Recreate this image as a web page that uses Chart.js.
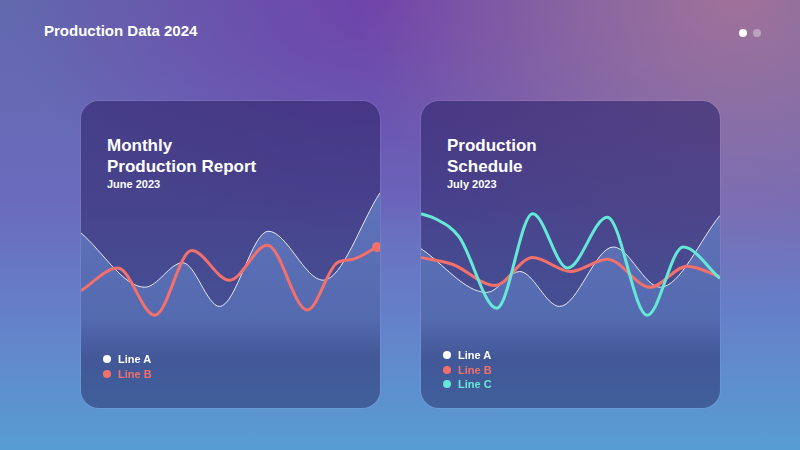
<!DOCTYPE html>
<html>
<head>
<meta charset="utf-8">
<title>Production Data 2024</title>
<script src="https://cdn.jsdelivr.net/npm/chart.js@4.4.1/dist/chart.umd.min.js"></script>
<style>
  html, body { margin: 0; padding: 0; }
  body {
    width: 800px; height: 450px; overflow: hidden; position: relative;
    font-family: "Liberation Sans", Arial, sans-serif; color: #fff;
    background:
      radial-gradient(ellipse 380px 300px at 92% 0%, rgba(170,115,150,0.85), rgba(170,115,150,0) 100%),
      radial-gradient(ellipse 380px 240px at 48% 0%, rgba(112,62,170,0.9), rgba(112,62,170,0) 100%),
      linear-gradient(180deg, #6269ad 0%, #6a6bbd 45%, #6580c8 70%, #579dd3 100%);
  }
  .header { position: absolute; left: 44px; top: 22px; font-size: 15px; font-weight: bold; }
  .dots { position: absolute; left: 739px; top: 23px; }
  .dots span { display: inline-block; width: 8px; height: 8px; border-radius: 50%; margin-right: 6px; background: #fff; }
  .dots span.off { background: rgba(255,255,255,0.35); }
  .card {
    position: absolute; top: 101px; width: 299px; height: 307px; border-radius: 18px; overflow: hidden;
    background: linear-gradient(180deg, rgba(52,40,112,0.66) 0%, rgba(50,48,115,0.62) 60%, rgba(45,60,120,0.6) 100%);
    box-shadow: 0 0 0 1px rgba(255,255,255,0.08);
  }
  .card h2 { position: absolute; left: 26px; top: 34px; margin: 0; font-size: 17px; line-height: 21px; font-weight: bold; }
  .card .sub { position: absolute; left: 26px; top: 77px; font-size: 11px; font-weight: bold; }
  .card canvas { position: absolute; left: 0; top: 69px; }
  .legend { position: absolute; left: 21px; font-size: 11px; font-weight: bold; line-height: 14.5px; }
  .legend div { position: relative; padding-left: 16px; }
  .legend i { position: absolute; left: 1px; top: 3px; width: 8px; height: 8px; border-radius: 50%; }
</style>
</head>
<body>
<div class="header">Production Data 2024</div>
<div class="dots"><span></span><span class="off"></span></div>

<div class="card" style="left:81px">
  <h2>Monthly<br>Production Report</h2>
  <div class="sub">June 2023</div>
  <canvas id="c1" width="299" height="190"></canvas>
  <div class="legend" style="top:251px">
    <div style="color:#fff"><i style="background:#fff"></i>Line A</div>
    <div style="color:#f4706a"><i style="background:#f4706a"></i>Line B</div>
  </div>
</div>

<div class="card" style="left:421px">
  <h2>Production<br>Schedule</h2>
  <div class="sub">July 2023</div>
  <canvas id="c2" width="299" height="190"></canvas>
  <div class="legend" style="top:247px">
    <div style="color:#fff"><i style="background:#fff"></i>Line A</div>
    <div style="color:#f4706a"><i style="background:#f4706a"></i>Line B</div>
    <div style="color:#66e8d6"><i style="background:#66e8d6"></i>Line C</div>
  </div>
</div>

<script>
// June 2023 (day of month, value)
const juneADays = [0, 6.4, 10.2, 13.9, 18.8, 24.3, 30];
const juneA     = [64, 33, 47, 22, 65, 37, 87];
const juneBDays = [0, 3.7, 7.4, 11.1, 14.9, 18.7, 22.7, 25.7, 27.3, 29.7];
const juneB     = [31, 44, 17, 54, 37, 57, 20, 47, 49, 56];

// July 2023
const julyADays = [0, 6.6, 9.9, 13.9, 19.3, 24.0, 30];
const julyA     = [55, 30, 42, 22, 56, 33, 74];
const julyBDays = [0, 3.2, 7.4, 11.2, 15.0, 18.7, 23.0, 26.7, 30];
const julyB     = [50, 46, 34, 50, 42, 49, 33, 45, 39];
const julyCDays = [0, 1.5, 3.8, 7.6, 11.2, 14.7, 18.7, 22.7, 26.3, 30];
const julyC     = [75, 72, 62, 21, 75, 44, 73, 17, 56, 38];

const CORAL = '#f4706a';
const TEAL = '#66e8d6';

function pts(days, vals) {
  return days.map((d, i) => ({ x: d, y: vals[i] }));
}

function areaFill(ctx) {
  const area = ctx.chart.chartArea;
  if (!area) return 'rgba(110,150,220,0.45)';
  const g = ctx.chart.ctx.createLinearGradient(0, area.top, 0, area.bottom);
  g.addColorStop(0, 'rgba(120,165,235,0.55)');
  g.addColorStop(0.78, 'rgba(110,150,220,0.38)');
  g.addColorStop(1, 'rgba(110,150,220,0)');
  return g;
}

function lineA(data) {
  return {
    label: 'Line A', data, borderColor: 'rgba(255,255,255,0.85)', borderWidth: 1,
    fill: 'start', backgroundColor: areaFill, pointRadius: 0, order: 3
  };
}

function makeChart(id, datasets) {
  new Chart(document.getElementById(id), {
    type: 'line',
    data: { datasets },
    options: {
      responsive: false,
      animation: false,
      cubicInterpolationMode: 'monotone',
      layout: { padding: 0, autoPadding: false },
      plugins: { legend: { display: false }, tooltip: { enabled: false } },
      scales: {
        x: { type: 'linear', min: 0, max: 30, display: false },
        y: { min: -8.6, max: 100, display: false }
      }
    }
  });
}

const juneBPts = pts(juneBDays, juneB);
makeChart('c1', [
  lineA(pts(juneADays, juneA)),
  {
    label: 'Line B', data: juneBPts, borderColor: CORAL, borderWidth: 3, fill: false,
    pointRadius: c => c.dataIndex === juneBPts.length - 1 ? 5 : 0,
    pointBackgroundColor: CORAL, pointBorderWidth: 0, clip: 8, order: 1
  }
]);

makeChart('c2', [
  lineA(pts(julyADays, julyA)),
  { label: 'Line B', data: pts(julyBDays, julyB), borderColor: CORAL, borderWidth: 3, fill: false, pointRadius: 0, order: 2 },
  { label: 'Line C', data: pts(julyCDays, julyC), borderColor: TEAL, borderWidth: 3, fill: false, pointRadius: 0, order: 1 }
]);
</script>
</body>
</html>
